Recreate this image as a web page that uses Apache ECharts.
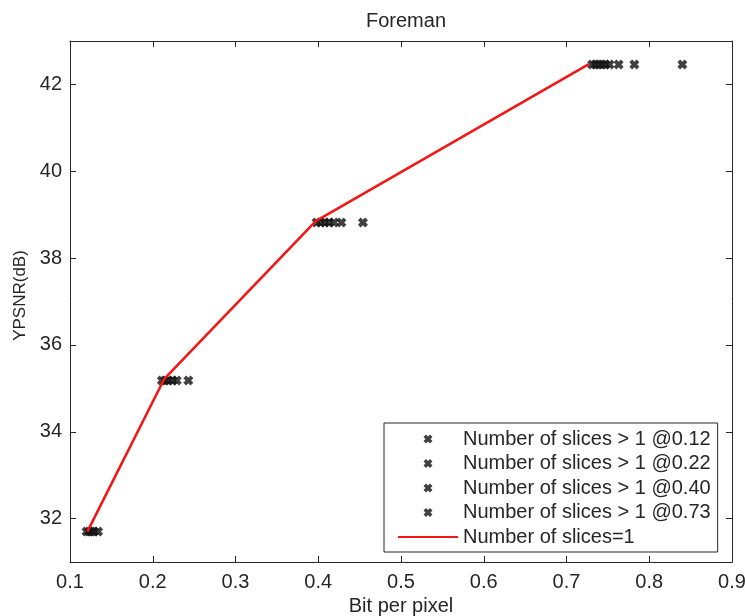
<!DOCTYPE html>
<html>
<head>
<meta charset="utf-8">
<script src="https://cdn.jsdelivr.net/npm/echarts@6/dist/echarts.min.js"></script>
<style>
html,body{margin:0;padding:0;background:#fff;}
#c{width:745px;height:616px;}
</style>
</head>
<body>
<div id="c"></div>
<script>
// ---- data ----
const xTicks = [0.1, 0.2, 0.3, 0.4, 0.5, 0.6, 0.7, 0.8, 0.9];
const yTicks = [32, 34, 36, 38, 40, 42];

const x012 = [0.120, 0.123, 0.126, 0.129, 0.134];
const y012 = [31.70, 31.70, 31.70, 31.70, 31.70];

const x022 = [0.211, 0.215, 0.219, 0.224, 0.229, 0.243];
const y022 = [35.18, 35.18, 35.18, 35.18, 35.18, 35.18];

const x040 = [0.398, 0.403, 0.408, 0.413, 0.419, 0.428, 0.454];
const y040 = [38.82, 38.82, 38.82, 38.82, 38.82, 38.82, 38.82];

const x073 = [0.731, 0.735, 0.739, 0.743, 0.747, 0.752, 0.763, 0.782, 0.840];
const y073 = [42.46, 42.46, 42.46, 42.46, 42.46, 42.46, 42.46, 42.46, 42.46];

const xLine = [0.121, 0.214, 0.397, 0.727];
const yLine = [31.70, 35.22, 38.85, 42.47];

const scatterNames = [
  'Number of slices > 1 @0.12',
  'Number of slices > 1 @0.22',
  'Number of slices > 1 @0.40',
  'Number of slices > 1 @0.73'
];
const lineName = 'Number of slices=1';

// ---- chart ----
const TXT = '#262626';
const FONT = "'Liberation Sans', Arial, Helvetica, sans-serif";
const w = 2.8;
const XSYM = 'path://M' + w + ',0L5,' + (5 - w) + 'L' + (10 - w) + ',0L10,' + w + 'L' + (5 + w) + ',5L10,' + (10 - w) +
  'L' + (10 - w) + ',10L5,' + (5 + w) + 'L' + w + ',10L0,' + (10 - w) + 'L' + (5 - w) + ',5L0,' + w + 'Z';

function zip(xs, ys) { return xs.map((x, i) => [x, ys[i]]); }

const chart = echarts.init(document.getElementById('c'), null, { renderer: 'canvas' });

const scatterSets = [[x012, y012], [x022, y022], [x040, y040], [x073, y073]];
const series = scatterSets.map((s, i) => ({
  name: scatterNames[i],
  type: 'scatter',
  data: zip(s[0], s[1]),
  symbol: XSYM,
  symbolSize: 10,
  symbolKeepAspect: true,
  itemStyle: { color: '#111111' },
  z: 2,
  silent: true
}));
series.push({
  name: lineName,
  type: 'line',
  data: zip(xLine, yLine),
  symbol: 'none',
  lineStyle: { color: '#f21818', width: 2.6 },
  itemStyle: { color: '#f21818' },
  z: 3,
  silent: true
});

const axisCommon = {
  axisLine: { show: true, lineStyle: { color: TXT, width: 1 } },
  axisTick: { show: true, inside: true, length: 6, lineStyle: { color: TXT, width: 1 } },
  splitLine: { show: false }
};

chart.setOption({
  animation: false,
  backgroundColor: '#fff',
  title: {
    text: 'Foreman',
    left: 401, top: 6,
    textAlign: 'center',
    textStyle: { color: TXT, fontSize: 20, fontWeight: 'normal', fontFamily: FONT }
  },
  grid: { left: 70, right: 13, top: 41, bottom: 54, containLabel: false, outerBoundsMode: 'none' },
  legend: {
    orient: 'vertical',
    left: 384, top: 423,
    padding: [6, 7, 5, 13],
    itemWidth: 60, itemHeight: 9,
    itemGap: 4.5,
    borderColor: TXT, borderWidth: 1,
    backgroundColor: '#fff',
    selectedMode: false,
    textStyle: { color: TXT, fontSize: 20, fontFamily: FONT, lineHeight: 20 },
    data: scatterNames.map(n => ({ name: n })).concat([{ name: lineName, itemStyle: { opacity: 0 } }])
  },
  xAxis: [
    Object.assign({
      type: 'value', position: 'bottom', min: 0.1, max: 0.9, interval: 0.1,
      name: 'Bit per pixel', nameLocation: 'middle', nameGap: 29,
      nameTextStyle: { color: TXT, fontSize: 20, fontFamily: FONT },
      axisLabel: { color: TXT, fontSize: 20, fontFamily: FONT, margin: 10,
        formatter: v => (Math.round(v * 10) / 10).toFixed(1) }
    }, axisCommon),
    Object.assign({
      type: 'value', position: 'top', min: 0.1, max: 0.9, interval: 0.1,
      axisLabel: { show: false }
    }, axisCommon)
  ],
  yAxis: [
    Object.assign({
      type: 'value', position: 'left', min: 31, max: 43,
      name: 'YPSNR(dB)', nameLocation: 'middle', nameGap: 38,
      nameTextStyle: { color: TXT, fontSize: 17, fontFamily: FONT, padding: [0, 0, 0, 12] },
      axisLabel: { color: TXT, fontSize: 20, fontFamily: FONT, margin: 8, customValues: yTicks },
      axisTick: { show: true, inside: true, length: 6, lineStyle: { color: TXT, width: 1 }, customValues: yTicks }
    }, { axisLine: axisCommon.axisLine, splitLine: { show: false } }),
    {
      type: 'value', position: 'right', min: 31, max: 43,
      axisLine: axisCommon.axisLine, splitLine: { show: false },
      axisLabel: { show: false },
      axisTick: { show: true, inside: true, length: 6, lineStyle: { color: TXT, width: 1 }, customValues: yTicks }
    }
  ],
  series: series
});
</script>
</body>
</html>
